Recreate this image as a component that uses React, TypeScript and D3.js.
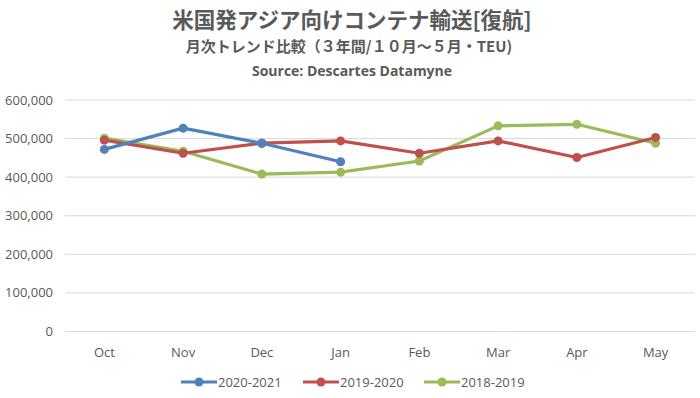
import React from "react";
import * as d3 from "d3";

const categories = ["Oct", "Nov", "Dec", "Jan", "Feb", "Mar", "Apr", "May"];
const seriesNames = ["2020-2021", "2019-2020", "2018-2019"];
const values2020 = [472000, 527000, 488000, 440000];
const values2019 = [496000, 462000, 488000, 494000, 462000, 494000, 451000, 503000];
const values2018 = [501000, 467000, 408000, 413000, 442000, 533000, 537000, 488000];
const yTicks = [0, 100000, 200000, 300000, 400000, 500000, 600000];
const colors = ["#4F81BD", "#C0504D", "#9BBB59"];

const W = 700, H = 398;
const left = 65, right = 695, top = 100, bottom = 331.5;

export default function App() {
  const x = d3.scaleBand().domain(categories).range([left, right]);
  const y = d3.scaleLinear().domain([0, 600000]).range([bottom, top]);
  const fmt = d3.format(",");
  const all = [values2020, values2019, values2018];
  const line = d3
    .line<number>()
    .x((_, i) => (x(categories[i]) as number) + x.bandwidth() / 2)
    .y((d) => y(d));
  const font = "'Noto Sans CJK JP', 'Noto Sans', sans-serif";
  const latin = "'Open Sans', 'Liberation Sans', sans-serif";
  const legendX = [181, 303, 424];
  return (
    <svg width={W} height={H} style={{ position: "absolute", left: 0, top: 0, background: "#fff" }} fontFamily={font}>
      <rect width={W} height={H} fill="#fff" />
      <text x={352} y={28} textAnchor="middle" fontSize={21.5} fontWeight="bold" fill="#595959">米国発アジア向けコンテナ輸送[復航]</text>
      <text x={349} y={52} textAnchor="middle" fontSize={15} fontWeight="bold" fill="#595959">月次トレンド比較（３年間/１０月～５月・TEU)</text>
      <text x={352} y={76} textAnchor="middle" fontSize={14} fontWeight="bold" fill="#595959" fontFamily={latin}>Source: Descartes Datamyne</text>
      {yTicks.map((t) => (
        <g key={t}>
          <line x1={left} x2={right} y1={y(t)} y2={y(t)} stroke="#d9d9d9" strokeWidth={1} />
          <text x={53} y={y(t) + 4.5} textAnchor="end" fontSize={13} fill="#595959" fontFamily={latin}>{fmt(t)}</text>
        </g>
      ))}
      {categories.map((c) => (
        <text key={c} x={(x(c) as number) + x.bandwidth() / 2} y={357} textAnchor="middle" fontSize={13} fill="#595959" fontFamily={latin}>{c}</text>
      ))}
      {[2, 1, 0].map((si) => (
        <g key={si}>
          <path d={line(all[si]) || ""} fill="none" stroke={colors[si]} strokeWidth={3.2} strokeLinejoin="round" strokeLinecap="round" />
          {all[si].map((v, i) => (
            <circle key={i} cx={(x(categories[i]) as number) + x.bandwidth() / 2} cy={y(v)} r={4.5} fill={colors[si]} />
          ))}
        </g>
      ))}
      {seriesNames.map((n, i) => (
        <g key={n} transform={`translate(${legendX[i]},382)`}>
          <line x1={0} x2={36} y1={0} y2={0} stroke={colors[i]} strokeWidth={3.2} />
          <circle cx={18} cy={0} r={4.5} fill={colors[i]} />
          <text x={37} y={4.5} fontSize={13} fill="#595959" fontFamily={latin}>{n}</text>
        </g>
      ))}
    </svg>
  );
}
